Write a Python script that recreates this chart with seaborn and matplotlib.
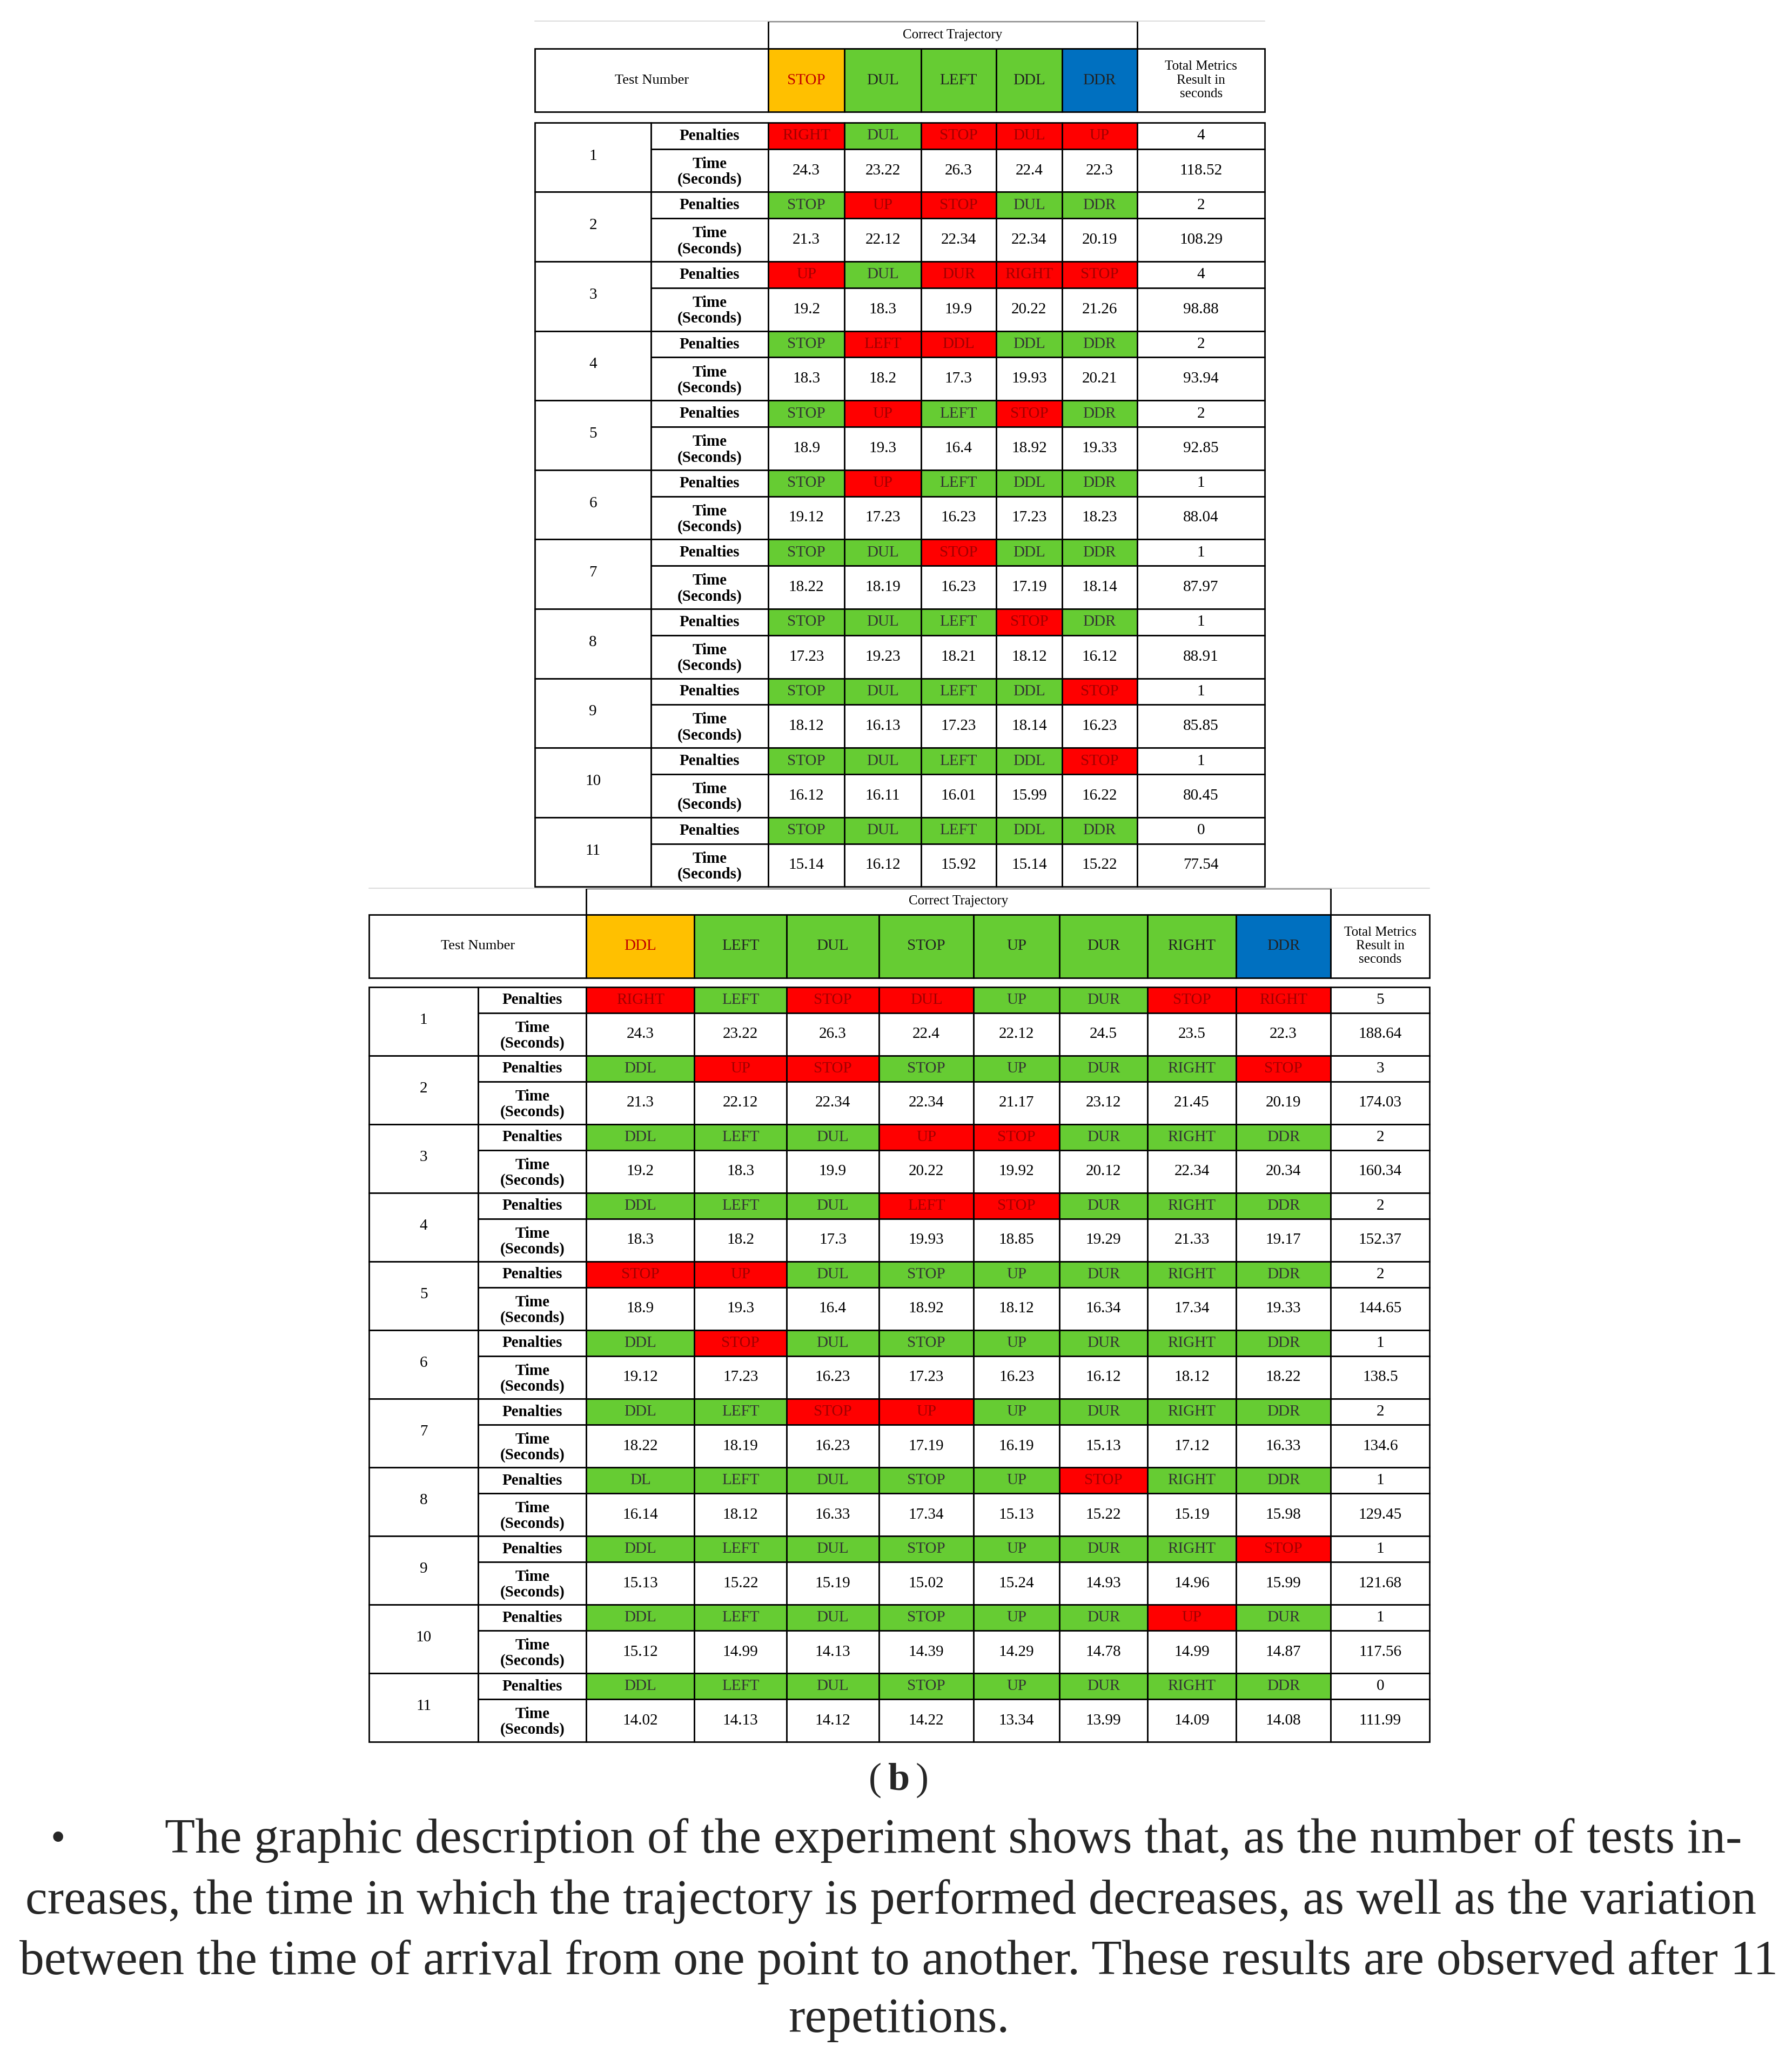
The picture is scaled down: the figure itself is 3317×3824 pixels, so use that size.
import matplotlib
matplotlib.use("Agg")
import matplotlib.pyplot as plt
import seaborn as sns
from matplotlib.patches import Rectangle

sns.set_theme(style="white")
plt.rcParams['font.family'] = ['Liberation Serif', 'DejaVu Serif']

# ---------------- data: table (a) ----------------
traj_a = ["STOP", "DUL", "LEFT", "DDL", "DDR"]
traj_a_colors = ["#FFC000", "#66CC33", "#66CC33", "#66CC33", "#0070C0"]
pen_a = [
    ["RIGHT", "DUL", "STOP", "DUL", "UP"],
    ["STOP", "UP", "STOP", "DUL", "DDR"],
    ["UP", "DUL", "DUR", "RIGHT", "STOP"],
    ["STOP", "LEFT", "DDL", "DDL", "DDR"],
    ["STOP", "UP", "LEFT", "STOP", "DDR"],
    ["STOP", "UP", "LEFT", "DDL", "DDR"],
    ["STOP", "DUL", "STOP", "DDL", "DDR"],
    ["STOP", "DUL", "LEFT", "STOP", "DDR"],
    ["STOP", "DUL", "LEFT", "DDL", "STOP"],
    ["STOP", "DUL", "LEFT", "DDL", "STOP"],
    ["STOP", "DUL", "LEFT", "DDL", "DDR"],
]
bad_a = [
    [1, 0, 1, 1, 1], [0, 1, 1, 0, 0], [1, 0, 1, 1, 1], [0, 1, 1, 0, 0],
    [0, 1, 0, 1, 0], [0, 1, 0, 0, 0], [0, 0, 1, 0, 0], [0, 0, 0, 1, 0],
    [0, 0, 0, 0, 1], [0, 0, 0, 0, 1], [0, 0, 0, 0, 0],
]
time_a = [
    ["24.3", "23.22", "26.3", "22.4", "22.3"],
    ["21.3", "22.12", "22.34", "22.34", "20.19"],
    ["19.2", "18.3", "19.9", "20.22", "21.26"],
    ["18.3", "18.2", "17.3", "19.93", "20.21"],
    ["18.9", "19.3", "16.4", "18.92", "19.33"],
    ["19.12", "17.23", "16.23", "17.23", "18.23"],
    ["18.22", "18.19", "16.23", "17.19", "18.14"],
    ["17.23", "19.23", "18.21", "18.12", "16.12"],
    ["18.12", "16.13", "17.23", "18.14", "16.23"],
    ["16.12", "16.11", "16.01", "15.99", "16.22"],
    ["15.14", "16.12", "15.92", "15.14", "15.22"],
]
tot_pen_a = ["4", "2", "4", "2", "2", "1", "1", "1", "1", "1", "0"]
tot_time_a = ["118.52", "108.29", "98.88", "93.94", "92.85", "88.04",
              "87.97", "88.91", "85.85", "80.45", "77.54"]

# ---------------- data: table (b) ----------------
traj_b = ["DDL", "LEFT", "DUL", "STOP", "UP", "DUR", "RIGHT", "DDR"]
traj_b_colors = ["#FFC000"] + ["#66CC33"] * 6 + ["#0070C0"]
pen_b = [
    ["RIGHT", "LEFT", "STOP", "DUL", "UP", "DUR", "STOP", "RIGHT"],
    ["DDL", "UP", "STOP", "STOP", "UP", "DUR", "RIGHT", "STOP"],
    ["DDL", "LEFT", "DUL", "UP", "STOP", "DUR", "RIGHT", "DDR"],
    ["DDL", "LEFT", "DUL", "LEFT", "STOP", "DUR", "RIGHT", "DDR"],
    ["STOP", "UP", "DUL", "STOP", "UP", "DUR", "RIGHT", "DDR"],
    ["DDL", "STOP", "DUL", "STOP", "UP", "DUR", "RIGHT", "DDR"],
    ["DDL", "LEFT", "STOP", "UP", "UP", "DUR", "RIGHT", "DDR"],
    ["DL", "LEFT", "DUL", "STOP", "UP", "STOP", "RIGHT", "DDR"],
    ["DDL", "LEFT", "DUL", "STOP", "UP", "DUR", "RIGHT", "STOP"],
    ["DDL", "LEFT", "DUL", "STOP", "UP", "DUR", "UP", "DUR"],
    ["DDL", "LEFT", "DUL", "STOP", "UP", "DUR", "RIGHT", "DDR"],
]
bad_b = [
    [1, 0, 1, 1, 0, 0, 1, 1], [0, 1, 1, 0, 0, 0, 0, 1], [0, 0, 0, 1, 1, 0, 0, 0],
    [0, 0, 0, 1, 1, 0, 0, 0], [1, 1, 0, 0, 0, 0, 0, 0], [0, 1, 0, 0, 0, 0, 0, 0],
    [0, 0, 1, 1, 0, 0, 0, 0], [0, 0, 0, 0, 0, 1, 0, 0], [0, 0, 0, 0, 0, 0, 0, 1],
    [0, 0, 0, 0, 0, 0, 1, 0], [0, 0, 0, 0, 0, 0, 0, 0],
]
time_b = [
    ["24.3", "23.22", "26.3", "22.4", "22.12", "24.5", "23.5", "22.3"],
    ["21.3", "22.12", "22.34", "22.34", "21.17", "23.12", "21.45", "20.19"],
    ["19.2", "18.3", "19.9", "20.22", "19.92", "20.12", "22.34", "20.34"],
    ["18.3", "18.2", "17.3", "19.93", "18.85", "19.29", "21.33", "19.17"],
    ["18.9", "19.3", "16.4", "18.92", "18.12", "16.34", "17.34", "19.33"],
    ["19.12", "17.23", "16.23", "17.23", "16.23", "16.12", "18.12", "18.22"],
    ["18.22", "18.19", "16.23", "17.19", "16.19", "15.13", "17.12", "16.33"],
    ["16.14", "18.12", "16.33", "17.34", "15.13", "15.22", "15.19", "15.98"],
    ["15.13", "15.22", "15.19", "15.02", "15.24", "14.93", "14.96", "15.99"],
    ["15.12", "14.99", "14.13", "14.39", "14.29", "14.78", "14.99", "14.87"],
    ["14.02", "14.13", "14.12", "14.22", "13.34", "13.99", "14.09", "14.08"],
]
tot_pen_b = ["5", "3", "2", "2", "2", "1", "2", "1", "1", "1", "0"]
tot_time_b = ["188.64", "174.03", "160.34", "152.37", "144.65", "138.5",
              "134.6", "129.45", "121.68", "117.56", "111.99"]

para = [
    "The graphic description of the experiment shows that, as the number of tests in-",
    "creases, the time in which the trajectory is performed decreases, as well as the variation",
    "between the time of arrival from one point to another. These results are observed after 11",
    "repetitions.",
]

GREEN, RED = "#66CC33", "#FF0000"
LW = 2.0
FS = 21


def cell(ax, x0, x1, y0, y1, color="white", lw=LW, ec="black"):
    ax.add_patch(Rectangle((x0, y0), x1 - x0, y1 - y0, facecolor=color,
                           edgecolor=ec, linewidth=lw))


def txt(ax, x, y, s, **kw):
    kw.setdefault("fontsize", FS)
    ax.text(x, y, s, ha="center", va="center", color=kw.pop("color", "black"), **kw)


def draw_table(ax, xe, top, hdr_mid, hdr_bot, body_top, body_bot,
               traj, traj_colors, pen, bad, times, tot_pen, tot_time):
    n = len(traj)
    # header
    ax.plot([xe[0], xe[-1]], [top, top], color="#DDDDDD", lw=1.5)
    cell(ax, xe[2], xe[2 + n], top, hdr_mid)
    txt(ax, (xe[2] + xe[2 + n]) / 2, (top + hdr_mid) / 2, "Correct Trajectory", fontsize=18)
    cell(ax, xe[0], xe[2], hdr_mid, hdr_bot)
    txt(ax, (xe[0] + xe[2]) / 2, (hdr_mid + hdr_bot) / 2, "Test Number", fontsize=19)
    for j in range(n):
        cell(ax, xe[2 + j], xe[3 + j], hdr_mid, hdr_bot, traj_colors[j])
        tc = "#C00000" if traj_colors[j] == "#FFC000" else "#222222"
        txt(ax, (xe[2 + j] + xe[3 + j]) / 2, (hdr_mid + hdr_bot) / 2, traj[j], color=tc)
    cell(ax, xe[-2], xe[-1], hdr_mid, hdr_bot)
    txt(ax, (xe[-2] + xe[-1]) / 2, (hdr_mid + hdr_bot) / 2,
        "Total Metrics\nResult in\nseconds", fontsize=18, linespacing=1.2)
    # body
    h = (body_bot - body_top) / len(pen)
    ph = h * 0.38
    for i in range(len(pen)):
        y0 = body_top + i * h
        ym = y0 + ph
        y1 = y0 + h
        cell(ax, xe[0], xe[1], y0, y1)
        txt(ax, (xe[0] + xe[1]) / 2, (y0 + y1) / 2 - 1, str(i + 1))
        cell(ax, xe[1], xe[2], y0, ym)
        txt(ax, (xe[1] + xe[2]) / 2, (y0 + ym) / 2, "Penalties", fontweight="bold")
        cell(ax, xe[1], xe[2], ym, y1)
        txt(ax, (xe[1] + xe[2]) / 2, (ym + y1) / 2 + 1, "Time\n(Seconds)",
            fontweight="bold", linespacing=1.1)
        for j in range(n):
            c = RED if bad[i][j] else GREEN
            cell(ax, xe[2 + j], xe[3 + j], y0, ym, c)
            txt(ax, (xe[2 + j] + xe[3 + j]) / 2, (y0 + ym) / 2, pen[i][j],
                color="#A00000" if bad[i][j] else "#333333")
            cell(ax, xe[2 + j], xe[3 + j], ym, y1)
            txt(ax, (xe[2 + j] + xe[3 + j]) / 2, (ym + y1) / 2, times[i][j])
        cell(ax, xe[-2], xe[-1], y0, ym)
        txt(ax, (xe[-2] + xe[-1]) / 2, (y0 + ym) / 2, tot_pen[i])
        cell(ax, xe[-2], xe[-1], ym, y1)
        txt(ax, (xe[-2] + xe[-1]) / 2, (ym + y1) / 2, tot_time[i])


fig = plt.figure(figsize=(33.17, 38.24), dpi=100)
ax = fig.add_axes([0, 0, 1, 1])
ax.set_xlim(0, 1360)
ax.set_ylim(1568, 0)
ax.axis("off")

xa = [406, 494, 583, 641, 699, 756, 806, 863, 960]
draw_table(ax, xa, 16, 37, 85, 93, 673, traj_a, traj_a_colors,
           pen_a, bad_a, time_a, tot_pen_a, tot_time_a)

xb = [280, 363, 445, 527, 597, 667, 739, 804, 871, 938, 1010, 1085]
draw_table(ax, xb, 674, 694, 742, 749, 1322, traj_b, traj_b_colors,
           pen_b, bad_b, time_b, tot_pen_b, tot_time_b)

ax.text(669, 1351, "(", ha="right", va="center", fontsize=52)
ax.text(682, 1351, "b", ha="center", va="center", fontsize=52, fontweight="bold")
ax.text(695, 1351, ")", ha="left", va="center", fontsize=52)

ax.text(44, 1397, "\u2022", ha="center", va="center", fontsize=56)
ax.text(125, 1397, para[0], ha="left", va="center", fontsize=66)
ax.text(676, 1443, para[1], ha="center", va="center", fontsize=66)
ax.text(682, 1489, para[2], ha="center", va="center", fontsize=66)
ax.text(682, 1533, para[3], ha="center", va="center", fontsize=66)

fig.savefig("out.png", dpi=100)
